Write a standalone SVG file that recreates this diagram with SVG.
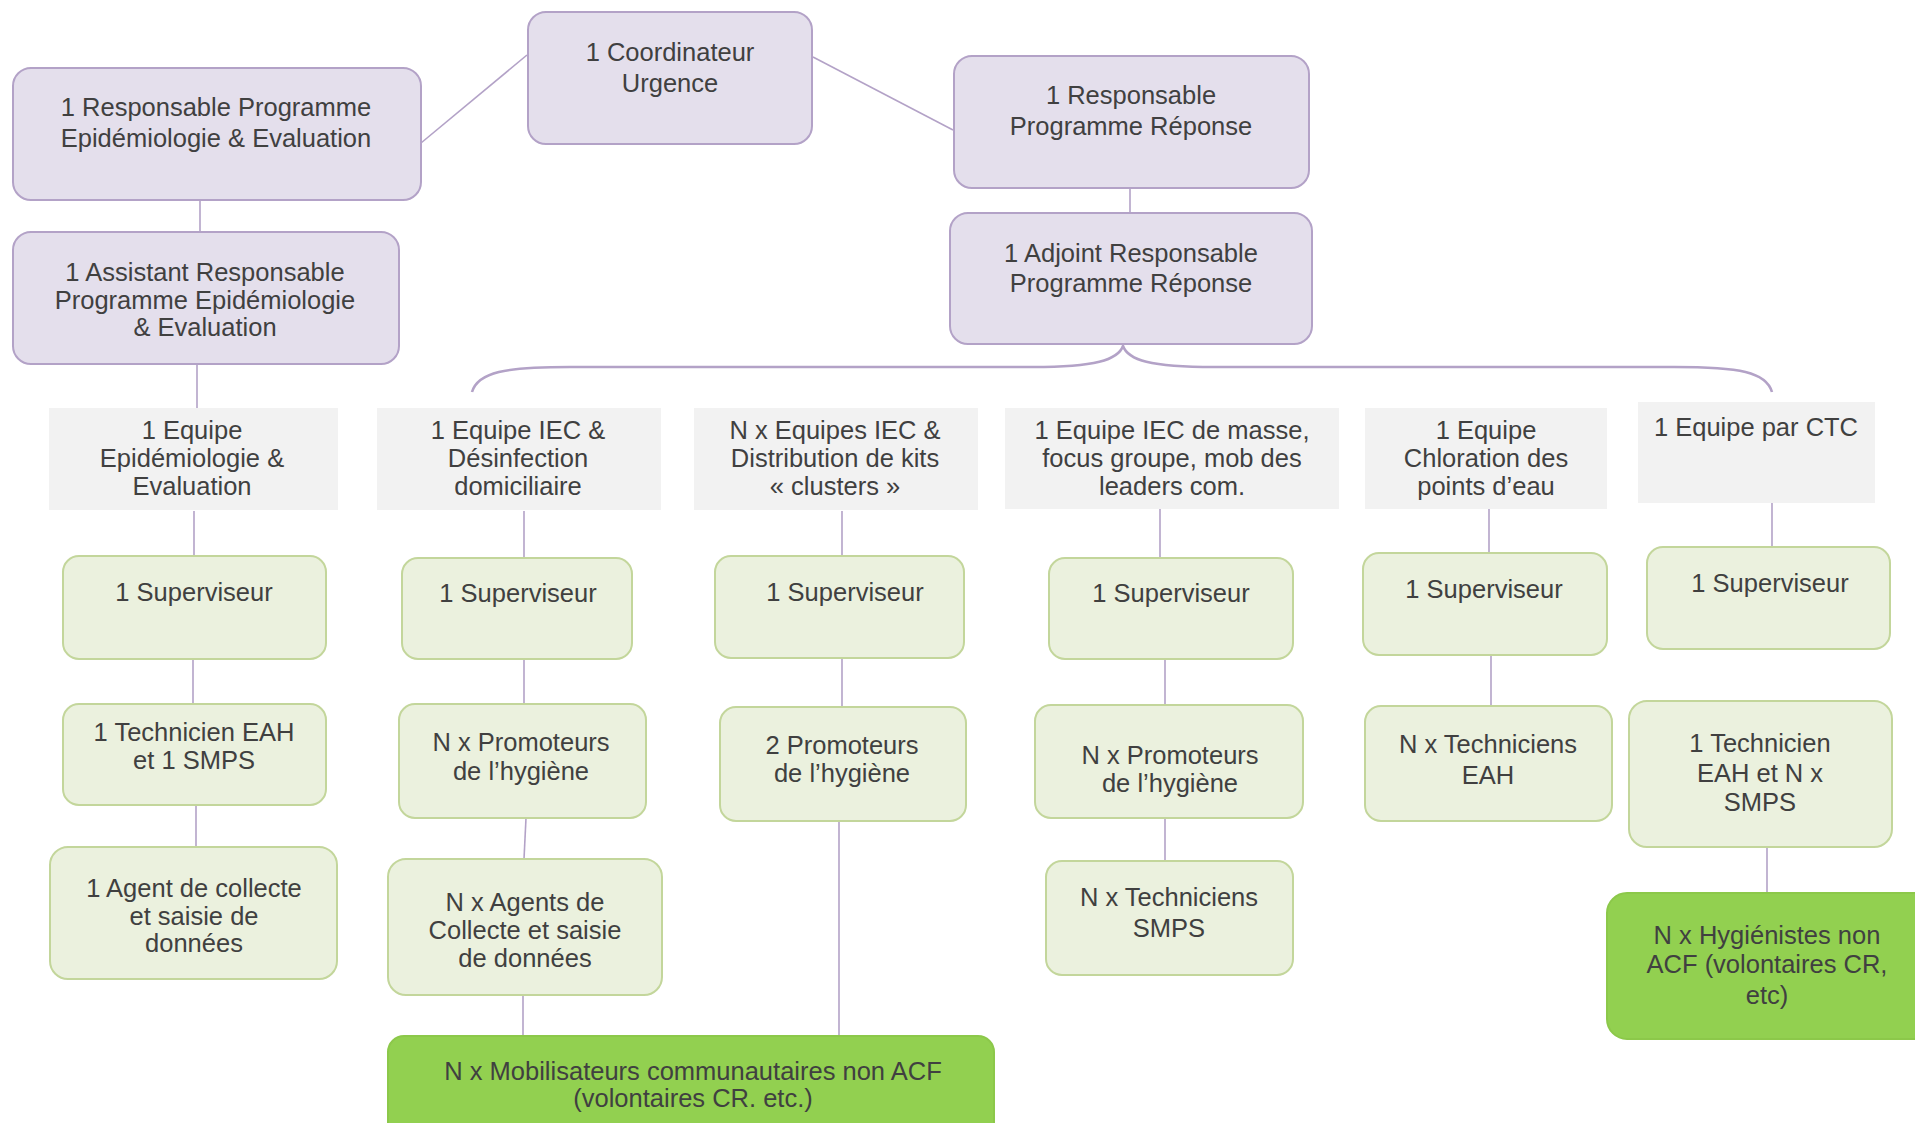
<svg xmlns="http://www.w3.org/2000/svg" width="1915" height="1123" viewBox="0 0 1915 1123">
<style>
.p{fill:#e4dfec;stroke:#b3a2c7;stroke-width:2}
.g{fill:#f2f2f2;stroke:none}
.l{fill:#ebf1de;stroke:#c3d69b;stroke-width:2}
.b{fill:#92d050;stroke:#8cc84a;stroke-width:2}
text{font-family:"Liberation Sans",Arial,sans-serif;font-size:25.5px;fill:#404040;text-anchor:middle}
.c{fill:none;stroke:#b3a2c7;stroke-width:1.6}
.br{fill:none;stroke:#b3a2c7;stroke-width:2.6}
</style>
<rect width="1915" height="1123" fill="#ffffff"/>
<g id="connectors">
<line class="c" x1="421" y1="143" x2="527" y2="55"/>
<line class="c" x1="813" y1="57" x2="953" y2="130"/>
<line class="c" x1="200" y1="200" x2="200" y2="232"/>
<line class="c" x1="1130" y1="188" x2="1130" y2="212"/>
<path class="br" d="M 472 392 C 478 372, 505 367, 570 367 L 1033 367 C 1095 367, 1118 360, 1123 346 C 1128 360, 1150 367, 1214 367 L 1674 367 C 1740 367, 1766 372, 1772 392"/>
<line class="c" x1="197" y1="364" x2="197" y2="408"/>
<line class="c" x1="194" y1="511" x2="194" y2="556"/>
<line class="c" x1="193" y1="659" x2="193" y2="704"/>
<line class="c" x1="196" y1="805" x2="196" y2="847"/>
<line class="c" x1="524" y1="511" x2="524" y2="558"/>
<line class="c" x1="524" y1="659" x2="524" y2="704"/>
<line class="c" x1="526" y1="818" x2="524" y2="859"/>
<line class="c" x1="523" y1="995" x2="523" y2="1036"/>
<line class="c" x1="842" y1="511" x2="842" y2="556"/>
<line class="c" x1="842" y1="658" x2="842" y2="707"/>
<line class="c" x1="839" y1="821" x2="839" y2="1036"/>
<line class="c" x1="1160" y1="509" x2="1160" y2="558"/>
<line class="c" x1="1165" y1="659" x2="1165" y2="705"/>
<line class="c" x1="1165" y1="818" x2="1165" y2="861"/>
<line class="c" x1="1489" y1="509" x2="1489" y2="553"/>
<line class="c" x1="1491" y1="655" x2="1491" y2="706"/>
<line class="c" x1="1772" y1="503" x2="1772" y2="547"/>
<line class="c" x1="1767" y1="847" x2="1767" y2="893"/>
</g>
<g id="coordinateur"><rect class="p" x="528" y="12" width="284" height="132" rx="18"/><text x="670" y="61">1 Coordinateur</text><text x="670" y="92">Urgence</text></g>
<g id="resp-epi"><rect class="p" x="13" y="68" width="408" height="132" rx="18"/><text x="216" y="116">1 Responsable Programme</text><text x="216" y="147">Epidémiologie &amp; Evaluation</text></g>
<g id="resp-rep"><rect class="p" x="954" y="56" width="355" height="132" rx="18"/><text x="1131" y="104">1 Responsable</text><text x="1131" y="135">Programme Réponse</text></g>
<g id="assistant"><rect class="p" x="13" y="232" width="386" height="132" rx="18"/><text x="205" y="281">1 Assistant Responsable</text><text x="205" y="309">Programme Epidémiologie</text><text x="205" y="336">&amp; Evaluation</text></g>
<g id="adjoint"><rect class="p" x="950" y="213" width="362" height="131" rx="18"/><text x="1131" y="262">1 Adjoint Responsable</text><text x="1131" y="292">Programme Réponse</text></g>
<g id="eq-epi"><rect class="g" x="49" y="408" width="289" height="102"/><text x="192" y="439">1 Equipe</text><text x="192" y="467">Epidémiologie &amp;</text><text x="192" y="495">Evaluation</text></g>
<g id="eq-iec"><rect class="g" x="377" y="408" width="284" height="102"/><text x="518" y="439">1 Equipe IEC &amp;</text><text x="518" y="467">Désinfection</text><text x="518" y="495">domiciliaire</text></g>
<g id="eq-kits"><rect class="g" x="694" y="408" width="284" height="102"/><text x="835" y="439">N x Equipes IEC &amp;</text><text x="835" y="467">Distribution de kits</text><text x="835" y="495">« clusters »</text></g>
<g id="eq-masse"><rect class="g" x="1005" y="408" width="334" height="101"/><text x="1172" y="439">1 Equipe IEC de masse,</text><text x="1172" y="467">focus groupe, mob des</text><text x="1172" y="495">leaders com.</text></g>
<g id="eq-chlor"><rect class="g" x="1365" y="408" width="242" height="101"/><text x="1486" y="439">1 Equipe</text><text x="1486" y="467">Chloration des</text><text x="1486" y="495">points d’eau</text></g>
<g id="eq-ctc"><rect class="g" x="1638" y="402" width="237" height="101"/><text x="1756" y="436">1 Equipe par CTC</text></g>
<g id="sup1"><rect class="l" x="63" y="556" width="263" height="103" rx="16"/><text x="194" y="601">1 Superviseur</text></g>
<g id="sup2"><rect class="l" x="402" y="558" width="230" height="101" rx="16"/><text x="518" y="602">1 Superviseur</text></g>
<g id="sup3"><rect class="l" x="715" y="556" width="249" height="102" rx="16"/><text x="845" y="601">1 Superviseur</text></g>
<g id="sup4"><rect class="l" x="1049" y="558" width="244" height="101" rx="16"/><text x="1171" y="602">1 Superviseur</text></g>
<g id="sup5"><rect class="l" x="1363" y="553" width="244" height="102" rx="16"/><text x="1484" y="598">1 Superviseur</text></g>
<g id="sup6"><rect class="l" x="1647" y="547" width="243" height="102" rx="16"/><text x="1770" y="592">1 Superviseur</text></g>
<g id="tech1"><rect class="l" x="63" y="704" width="263" height="101" rx="16"/><text x="194" y="741">1 Technicien EAH</text><text x="194" y="769">et 1 SMPS</text></g>
<g id="agent1"><rect class="l" x="50" y="847" width="287" height="132" rx="18"/><text x="194" y="897">1 Agent de collecte</text><text x="194" y="925">et saisie de</text><text x="194" y="952">données</text></g>
<g id="prom2"><rect class="l" x="399" y="704" width="247" height="114" rx="16"/><text x="521" y="751">N x Promoteurs</text><text x="521" y="780">de l’hygiène</text></g>
<g id="agent2"><rect class="l" x="388" y="859" width="274" height="136" rx="18"/><text x="525" y="911">N x Agents de</text><text x="525" y="939">Collecte et saisie</text><text x="525" y="967">de données</text></g>
<g id="prom3"><rect class="l" x="720" y="707" width="246" height="114" rx="16"/><text x="842" y="754">2 Promoteurs</text><text x="842" y="782">de l’hygiène</text></g>
<g id="prom4"><rect class="l" x="1035" y="705" width="268" height="113" rx="16"/><text x="1170" y="764">N x Promoteurs</text><text x="1170" y="792">de l’hygiène</text></g>
<g id="tech4"><rect class="l" x="1046" y="861" width="247" height="114" rx="16"/><text x="1169" y="906">N x Techniciens</text><text x="1169" y="937">SMPS</text></g>
<g id="tech5"><rect class="l" x="1365" y="706" width="247" height="115" rx="16"/><text x="1488" y="753">N x Techniciens</text><text x="1488" y="784">EAH</text></g>
<g id="tech6"><rect class="l" x="1629" y="701" width="263" height="146" rx="18"/><text x="1760" y="752">1 Technicien</text><text x="1760" y="782">EAH et N x</text><text x="1760" y="811">SMPS</text></g>
<g id="mobilisateurs"><rect class="b" x="388" y="1036" width="606" height="110" rx="16"/><text x="693" y="1080">N x Mobilisateurs communautaires non ACF</text><text x="693" y="1107">(volontaires CR. etc.)</text></g>
<g id="hygienistes"><rect class="b" x="1607" y="893" width="340" height="146" rx="20"/><text x="1767" y="944">N x Hygiénistes non</text><text x="1767" y="973">ACF (volontaires CR,</text><text x="1767" y="1004">etc)</text></g>
</svg>
